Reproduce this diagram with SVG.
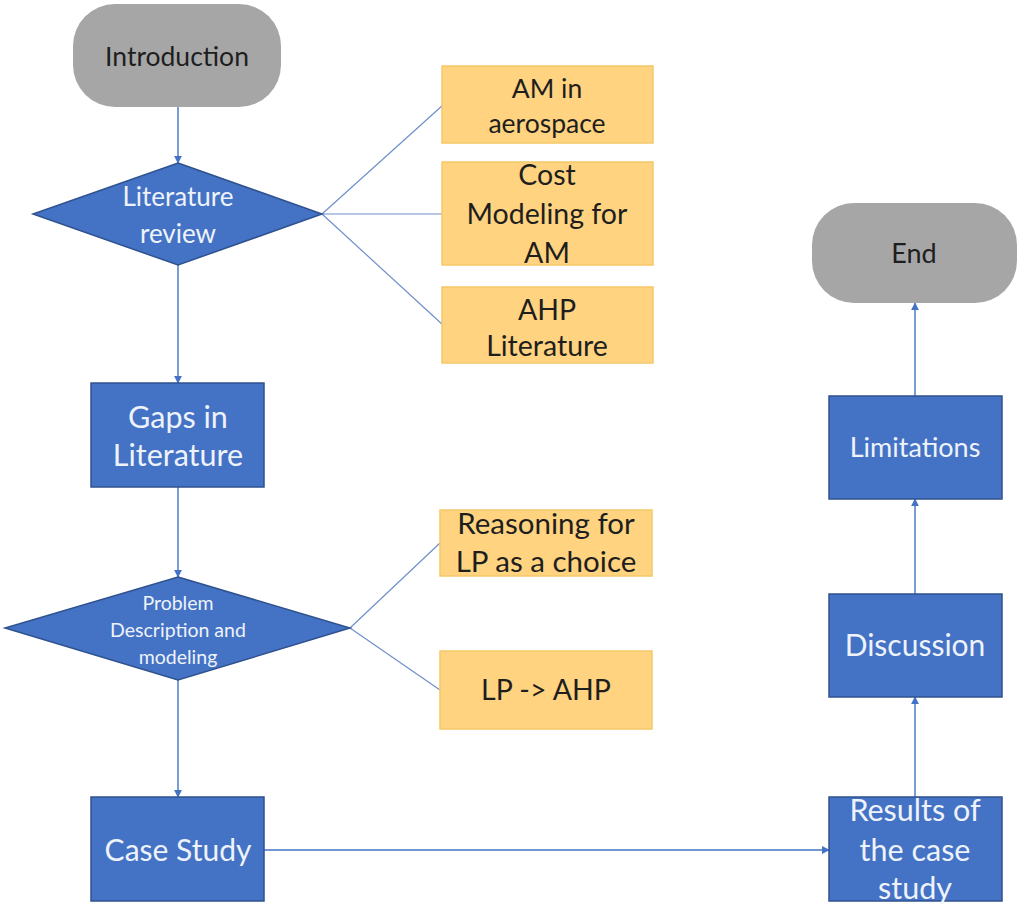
<svg xmlns="http://www.w3.org/2000/svg" width="1017" height="905" viewBox="0 0 1017 905">
<defs>
<marker id="ah" viewBox="0 0 10 10" refX="9" refY="5" markerWidth="8" markerHeight="8" markerUnits="userSpaceOnUse" orient="auto">
<path d="M0,0 L10,5 L0,10 z" fill="#4472C4"/>
</marker>
<style>
.term{fill:#A6A6A6;}
.proc{fill:#4472C4;stroke:#2F528F;stroke-width:1.5;}
.note{fill:#FFD37F;stroke:#F5C868;stroke-width:1.5;}
.t{font-family:Lato,"Open Sans","Liberation Sans",sans-serif;text-anchor:middle;}
.tw{fill:#EEF3FB;}
.tk{fill:#1E1E1E;}
.c{stroke:#4472C4;stroke-width:1.4;fill:none;}
.cl{stroke:#6F8FCC;stroke-width:1.2;fill:none;}
</style>
</defs>
<rect width="1017" height="905" fill="#FFFFFF"/>
<g id="connectors">
<line class="c" x1="178" y1="107" x2="178" y2="163" marker-end="url(#ah)"/>
<line class="c" x1="178" y1="265" x2="178" y2="383" marker-end="url(#ah)"/>
<line class="c" x1="178" y1="487" x2="178" y2="577" marker-end="url(#ah)"/>
<line class="c" x1="178" y1="680" x2="178" y2="797" marker-end="url(#ah)"/>
<line class="c" x1="264" y1="850" x2="829" y2="850" marker-end="url(#ah)"/>
<line class="c" x1="915" y1="797" x2="915" y2="697" marker-end="url(#ah)"/>
<line class="c" x1="915" y1="594" x2="915" y2="499" marker-end="url(#ah)"/>
<line class="c" x1="915" y1="396" x2="915" y2="303" marker-end="url(#ah)"/>
<line class="cl" x1="322" y1="214" x2="443" y2="105"/>
<line class="cl" x1="322" y1="214" x2="443" y2="214"/>
<line class="cl" x1="322" y1="214" x2="443" y2="325"/>
<line class="cl" x1="350" y1="628" x2="440" y2="543"/>
<line class="cl" x1="350" y1="628" x2="440" y2="690"/>
</g>
<g id="introduction">
<rect class="term" x="73" y="4" width="208" height="103" rx="42" ry="42"/>
<text class="t tk" x="177" y="66" font-size="26.5">Introduction</text>
</g>
<g id="literature-review">
<polygon class="proc" points="178,163 322,214 178,265 33,214"/>
<text class="t tw" x="178" y="206" font-size="26">Literature</text>
<text class="t tw" x="178" y="243" font-size="26">review</text>
</g>
<g id="am-aerospace">
<rect class="note" x="442" y="66" width="211" height="77"/>
<text class="t tk" x="547" y="98" font-size="26.5">AM in</text>
<text class="t tk" x="547" y="133" font-size="26.5">aerospace</text>
</g>
<g id="cost-modeling">
<rect class="note" x="442" y="162" width="211" height="103"/>
<text class="t tk" x="547" y="185" font-size="28.5">Cost</text>
<text class="t tk" x="547" y="224" font-size="28.5">Modeling for</text>
<text class="t tk" x="547" y="263" font-size="28.5">AM</text>
</g>
<g id="ahp-literature">
<rect class="note" x="442" y="287" width="211" height="76"/>
<text class="t tk" x="547" y="320" font-size="28.5">AHP</text>
<text class="t tk" x="547" y="356" font-size="28.5">Literature</text>
</g>
<g id="gaps">
<rect class="proc" x="91" y="383" width="173" height="104"/>
<text class="t tw" x="178" y="428" font-size="30.5">Gaps in</text>
<text class="t tw" x="178" y="466" font-size="30.5">Literature</text>
</g>
<g id="problem">
<polygon class="proc" points="178,577 350,628 178,680 5,628"/>
<text class="t tw" x="178" y="610" font-size="19.5">Problem</text>
<text class="t tw" x="178" y="637" font-size="19.5">Description and</text>
<text class="t tw" x="178" y="664" font-size="19.5">modeling</text>
</g>
<g id="reasoning">
<rect class="note" x="440" y="510" width="212" height="66"/>
<text class="t tk" x="546" y="534" font-size="29.5">Reasoning for</text>
<text class="t tk" x="546" y="572" font-size="29.5">LP as a choice</text>
</g>
<g id="lp-ahp">
<rect class="note" x="440" y="651" width="212" height="78"/>
<text class="t tk" x="546" y="700" font-size="28.5">LP -&gt; AHP</text>
</g>
<g id="case-study">
<rect class="proc" x="91" y="797" width="173" height="104"/>
<text class="t tw" x="178" y="861" font-size="30">Case Study</text>
</g>
<g id="results">
<rect class="proc" x="829" y="797" width="173" height="104"/>
<text class="t tw" x="915" y="821" font-size="30.5">Results of</text>
<text class="t tw" x="915" y="861" font-size="30.5">the case</text>
<text class="t tw" x="915" y="899" font-size="30.5">study</text>
</g>
<g id="discussion">
<rect class="proc" x="829" y="594" width="173" height="103"/>
<text class="t tw" x="915" y="656" font-size="30">Discussion</text>
</g>
<g id="limitations">
<rect class="proc" x="829" y="396" width="173" height="103"/>
<text class="t tw" x="915" y="457" font-size="27">Limitations</text>
</g>
<g id="end">
<rect class="term" x="812" y="203" width="205" height="100" rx="42" ry="42"/>
<text class="t tk" x="914" y="263" font-size="27">End</text>
</g>
</svg>
